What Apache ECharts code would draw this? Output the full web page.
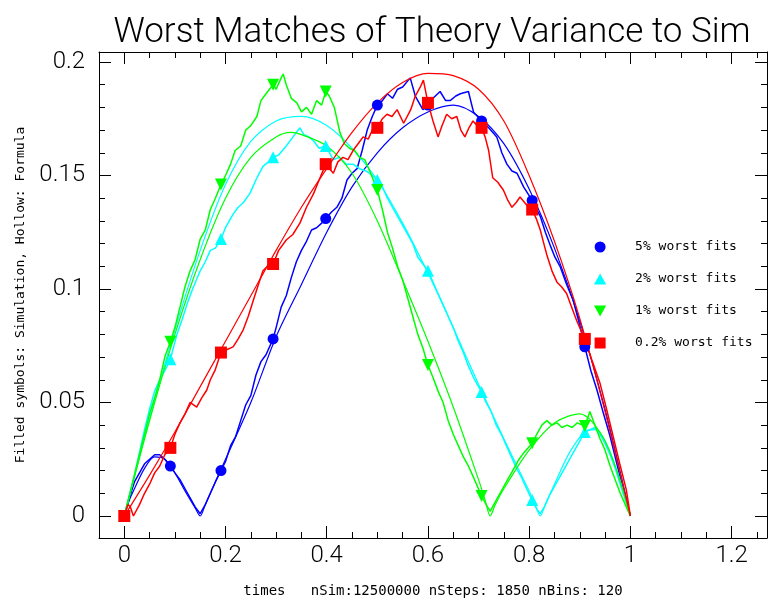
<!DOCTYPE html>
<html>
<head>
<meta charset="utf-8">
<script src="https://cdn.jsdelivr.net/npm/echarts@6.0.0/dist/echarts.min.js"></script>
<style>
html, body { margin: 0; padding: 0; background: #fff; }
#main { width: 768px; height: 603px; }
</style>
</head>
<body>
<div id="main"></div>
<script>
// tick values
var xMajor = [0, 0.2, 0.4, 0.6, 0.8, 1, 1.2];
var xMinor = [0.05, 0.1, 0.15, 0.25, 0.3, 0.35, 0.45, 0.5, 0.55, 0.65, 0.7, 0.75, 0.85, 0.9, 0.95, 1.05, 1.1, 1.15, 1.25];
var yMajor = [0, 0.05, 0.1, 0.15, 0.2];
var yMinor = [0.01, 0.02, 0.03, 0.04, 0.06, 0.07, 0.08, 0.09, 0.11, 0.12, 0.13, 0.14, 0.16, 0.17, 0.18, 0.19];

// times where the filled symbols sit
var markX = [0, 0.091, 0.191, 0.294, 0.398, 0.5, 0.6, 0.706, 0.806, 0.91];
var blueMarkY = [0, 0.022, 0.020, 0.078, 0.131, 0.181, 0.181, 0.174, 0.139, 0.0745];
var cyanMarkY = [0, 0.069, 0.122, 0.158, 0.163, 0.148, 0.108, 0.0546, 0.007, 0.037];
var greenMarkY = [0, 0.0767, 0.146, 0.190, 0.187, 0.1436, 0.0665, 0.0088, 0.032, 0.0396];
var redMarkY = [0, 0.030, 0.072, 0.111, 0.155, 0.171, 0.182, 0.171, 0.135, 0.078];

// simulation curves [time, variance]
var blueSim = [[0,0],[0.01,0.008],[0.02,0.015],[0.03,0.019],[0.04,0.023],[0.05,0.025],[0.06,0.027],[0.07,0.027],[0.08,0.025],[0.091,0.022],[0.10,0.019],[0.11,0.016],[0.12,0.012],[0.13,0.008],[0.14,0.004],[0.15,0.001],[0.16,0.005],[0.17,0.010],[0.18,0.015],[0.191,0.020],[0.20,0.024],[0.21,0.031],[0.22,0.035],[0.23,0.042],[0.24,0.049],[0.25,0.053],[0.26,0.062],[0.27,0.068],[0.28,0.071],[0.294,0.078],[0.30,0.083],[0.31,0.092],[0.32,0.097],[0.33,0.105],[0.34,0.112],[0.35,0.117],[0.36,0.121],[0.37,0.126],[0.38,0.127],[0.39,0.129],[0.398,0.131],[0.41,0.134],[0.42,0.136],[0.43,0.140],[0.44,0.148],[0.45,0.151],[0.46,0.153],[0.47,0.161],[0.48,0.170],[0.49,0.176],[0.5,0.181],[0.51,0.183],[0.52,0.186],[0.53,0.184],[0.54,0.188],[0.55,0.189],[0.565,0.193],[0.575,0.185],[0.59,0.179],[0.6,0.181],[0.61,0.184],[0.624,0.187],[0.635,0.183],[0.644,0.183],[0.655,0.185],[0.664,0.186],[0.68,0.187],[0.69,0.178],[0.706,0.174],[0.72,0.171],[0.736,0.167],[0.746,0.160],[0.756,0.155],[0.766,0.152],[0.776,0.151],[0.789,0.145],[0.806,0.139],[0.815,0.135],[0.822,0.132],[0.832,0.125],[0.842,0.119],[0.851,0.114],[0.861,0.110],[0.874,0.102],[0.887,0.095],[0.90,0.084],[0.91,0.0745],[0.922,0.064],[0.934,0.0555],[0.947,0.045],[0.96,0.035],[0.97,0.026],[0.98,0.017],[0.99,0.009],[1.0,0]];
var cyanSim = [[0,0],[0.01,0.009],[0.02,0.018],[0.03,0.028],[0.04,0.038],[0.051,0.048],[0.06,0.055],[0.07,0.060],[0.08,0.064],[0.091,0.069],[0.104,0.080],[0.115,0.087],[0.125,0.094],[0.135,0.100],[0.15,0.108],[0.16,0.112],[0.17,0.117],[0.18,0.118],[0.191,0.122],[0.2,0.127],[0.215,0.133],[0.225,0.136],[0.235,0.138],[0.248,0.142],[0.26,0.148],[0.274,0.154],[0.285,0.156],[0.294,0.158],[0.305,0.159],[0.32,0.163],[0.33,0.166],[0.34,0.169],[0.347,0.171],[0.355,0.168],[0.365,0.167],[0.375,0.165],[0.385,0.162],[0.398,0.163],[0.413,0.157],[0.425,0.158],[0.438,0.155],[0.452,0.155],[0.465,0.153],[0.478,0.152],[0.49,0.150],[0.5,0.148],[0.51,0.145],[0.52,0.140],[0.53,0.136],[0.54,0.132],[0.55,0.128],[0.56,0.124],[0.57,0.120],[0.58,0.114],[0.59,0.111],[0.6,0.108],[0.61,0.103],[0.62,0.098],[0.63,0.093],[0.64,0.088],[0.65,0.083],[0.66,0.077],[0.67,0.072],[0.68,0.066],[0.69,0.061],[0.706,0.0546],[0.715,0.050],[0.725,0.046],[0.735,0.040],[0.745,0.036],[0.755,0.031],[0.765,0.026],[0.775,0.021],[0.785,0.017],[0.795,0.012],[0.806,0.007],[0.815,0.003],[0.822,0.001],[0.83,0.004],[0.84,0.009],[0.85,0.013],[0.86,0.017],[0.87,0.021],[0.88,0.025],[0.89,0.029],[0.9,0.033],[0.91,0.037],[0.92,0.038],[0.93,0.039],[0.94,0.036],[0.95,0.032],[0.96,0.027],[0.97,0.021],[0.98,0.014],[0.99,0.007],[1.0,0]];
var greenSim = [[0,0],[0.01,0.009],[0.02,0.018],[0.03,0.027],[0.04,0.036],[0.05,0.045],[0.06,0.052],[0.07,0.060],[0.08,0.070],[0.091,0.0767],[0.10,0.083],[0.11,0.092],[0.12,0.101],[0.13,0.108],[0.14,0.113],[0.15,0.122],[0.16,0.126],[0.17,0.135],[0.18,0.140],[0.191,0.146],[0.20,0.150],[0.21,0.155],[0.219,0.161],[0.23,0.163],[0.24,0.170],[0.25,0.172],[0.262,0.176],[0.27,0.183],[0.28,0.186],[0.294,0.190],[0.30,0.188],[0.31,0.193],[0.314,0.1947],[0.32,0.190],[0.33,0.184],[0.341,0.182],[0.35,0.178],[0.36,0.180],[0.37,0.177],[0.38,0.183],[0.39,0.181],[0.398,0.187],[0.405,0.185],[0.415,0.180],[0.426,0.169],[0.435,0.164],[0.445,0.162],[0.455,0.161],[0.465,0.158],[0.475,0.157],[0.485,0.152],[0.5,0.1436],[0.51,0.135],[0.52,0.125],[0.53,0.118],[0.54,0.110],[0.55,0.104],[0.56,0.096],[0.57,0.088],[0.58,0.080],[0.59,0.074],[0.6,0.0665],[0.61,0.061],[0.62,0.055],[0.63,0.050],[0.64,0.042],[0.65,0.036],[0.66,0.031],[0.67,0.026],[0.68,0.022],[0.69,0.017],[0.706,0.0088],[0.715,0.005],[0.723,0.002],[0.73,0.005],[0.74,0.009],[0.75,0.013],[0.76,0.017],[0.77,0.021],[0.78,0.025],[0.79,0.028],[0.806,0.032],[0.815,0.036],[0.825,0.040],[0.835,0.042],[0.845,0.040],[0.855,0.041],[0.865,0.039],[0.875,0.040],[0.885,0.039],[0.895,0.041],[0.91,0.0396],[0.92,0.046],[0.93,0.040],[0.94,0.034],[0.95,0.029],[0.96,0.022],[0.97,0.016],[0.98,0.010],[0.99,0.005],[1.0,0]];
var redSim = [[0,0],[0.007,0.005],[0.012,0.004],[0.018,0.0],[0.03,0.005],[0.04,0.010],[0.051,0.0145],[0.06,0.019],[0.07,0.022],[0.08,0.027],[0.091,0.030],[0.10,0.036],[0.11,0.041],[0.12,0.045],[0.13,0.050],[0.143,0.048],[0.153,0.052],[0.163,0.0555],[0.17,0.060],[0.179,0.064],[0.191,0.072],[0.20,0.073],[0.215,0.0745],[0.225,0.078],[0.235,0.082],[0.245,0.088],[0.255,0.095],[0.265,0.102],[0.274,0.108],[0.283,0.110],[0.294,0.111],[0.305,0.117],[0.32,0.1216],[0.333,0.124],[0.347,0.129],[0.36,0.136],[0.374,0.142],[0.385,0.148],[0.398,0.155],[0.413,0.151],[0.422,0.156],[0.432,0.158],[0.442,0.157],[0.452,0.161],[0.462,0.164],[0.472,0.167],[0.482,0.166],[0.492,0.171],[0.5,0.171],[0.51,0.175],[0.519,0.177],[0.529,0.176],[0.539,0.179],[0.552,0.173],[0.566,0.179],[0.575,0.185],[0.585,0.189],[0.591,0.192],[0.6,0.182],[0.61,0.174],[0.62,0.167],[0.628,0.172],[0.637,0.177],[0.647,0.175],[0.657,0.176],[0.665,0.170],[0.673,0.167],[0.681,0.171],[0.689,0.174],[0.697,0.172],[0.706,0.171],[0.713,0.167],[0.72,0.161],[0.728,0.149],[0.738,0.147],[0.749,0.1436],[0.758,0.139],[0.766,0.136],[0.774,0.138],[0.782,0.1405],[0.795,0.137],[0.806,0.135],[0.814,0.131],[0.822,0.126],[0.829,0.120],[0.835,0.115],[0.845,0.108],[0.855,0.103],[0.864,0.101],[0.874,0.098],[0.884,0.092],[0.894,0.086],[0.902,0.082],[0.91,0.078],[0.925,0.068],[0.94,0.0585],[0.953,0.047],[0.966,0.035],[0.979,0.023],[0.992,0.0115],[1.0,0]];

// formula curves [time, variance]
var blueFormula = [[0,0],[0.01,0.007],[0.02,0.012],[0.04,0.021],[0.06,0.026],[0.08,0.025],[0.10,0.019],[0.12,0.011],[0.14,0.0035],[0.15,0],[0.16,0.005],[0.19,0.020],[0.25,0.050],[0.3,0.079],[0.35,0.102],[0.4,0.125],[0.45,0.145],[0.5,0.160],[0.55,0.171],[0.6,0.178],[0.65,0.181],[0.7,0.176],[0.75,0.164],[0.8,0.144],[0.85,0.118],[0.9,0.086],[0.95,0.047],[1,0]];
var cyanFormula = [[0,0],[0.05,0.043],[0.1,0.082],[0.15,0.117],[0.2,0.146],[0.25,0.165],[0.3,0.174],[0.35,0.176],[0.4,0.172],[0.45,0.162],[0.5,0.148],[0.55,0.129],[0.6,0.107],[0.65,0.083],[0.7,0.058],[0.75,0.034],[0.8,0.011],[0.812,0.005],[0.822,0],[0.832,0.005],[0.85,0.014],[0.88,0.028],[0.91,0.037],[0.93,0.038],[0.95,0.033],[0.975,0.019],[1,0]];
var greenFormula = [[0,0],[0.05,0.042],[0.1,0.080],[0.15,0.113],[0.2,0.140],[0.25,0.158],[0.3,0.167],[0.33,0.169],[0.35,0.168],[0.4,0.163],[0.45,0.151],[0.5,0.130],[0.55,0.104],[0.6,0.077],[0.65,0.048],[0.7,0.016],[0.713,0.007],[0.723,0],[0.733,0.005],[0.75,0.012],[0.8,0.029],[0.85,0.041],[0.9,0.045],[0.95,0.033],[1,0]];
var redFormula = [[0,0],[0.05,0.018],[0.1,0.037],[0.15,0.057],[0.2,0.077],[0.25,0.097],[0.3,0.117],[0.35,0.136],[0.4,0.153],[0.45,0.169],[0.5,0.182],[0.55,0.191],[0.6,0.195],[0.65,0.194],[0.7,0.188],[0.75,0.174],[0.8,0.150],[0.85,0.121],[0.9,0.087],[0.95,0.046],[1,0]];

var upTriangle = 'path://M5,0 L10,9 L0,9 Z';
var downTriangle = 'path://M0,0 L10,0 L5,9 Z';
var square = 'path://M0,0 L10,0 L10,10 L0,10 Z';
var groups = [
    { name: '5% worst fits', color: '#0000ff', sim: blueSim, formula: blueFormula, markY: blueMarkY, symbol: 'circle', icon: 'circle', size: 11 },
    { name: '2% worst fits', color: '#00ffff', sim: cyanSim, formula: cyanFormula, markY: cyanMarkY, symbol: upTriangle, icon: upTriangle, size: 12 },
    { name: '1% worst fits', color: '#00ff00', sim: greenSim, formula: greenFormula, markY: greenMarkY, symbol: downTriangle, icon: downTriangle, size: 12 },
    { name: '0.2% worst fits', color: '#ff0000', sim: redSim, formula: redFormula, markY: redMarkY, symbol: square, icon: square, size: 12 }
];

var myChart = echarts.init(document.getElementById('main'), null, { renderer: 'canvas' });

var series = [];
groups.forEach(function (g) {
    series.push({
        name: g.name + ' sim', type: 'line', data: g.sim, showSymbol: false,
        lineStyle: { color: g.color, width: 1.5 }, itemStyle: { color: g.color }, z: 2
    });
    series.push({
        name: g.name + ' formula', type: 'line', data: g.formula, showSymbol: false, smooth: 0.3,
        lineStyle: { color: g.color, width: 1.2 }, itemStyle: { color: g.color }, z: 2
    });
    series.push({
        name: g.name, type: 'scatter', symbol: g.symbol, symbolSize: g.size,
        data: markX.map(function (x, i) { return [x, g.markY[i]]; }),
        itemStyle: { color: g.color, opacity: 1 }, z: 3
    });
});

function tickAxis(pos, values, len, withLine) {
    var horiz = pos === 'bottom' || pos === 'top';
    return {
        type: 'value', position: pos,
        min: horiz ? -0.05 : -0.0097,
        max: horiz ? 1.27 : 0.2044,
        axisLine: { show: withLine, onZero: false, lineStyle: { color: '#000', width: 1 } },
        axisTick: { show: true, inside: true, length: len, customValues: values, lineStyle: { color: '#000', width: 1 } },
        axisLabel: { show: false },
        splitLine: { show: false }
    };
}

var labelFont = { fontFamily: 'Roboto', fontWeight: 300, fontSize: 24, color: '#000' };

var xMain = tickAxis('bottom', xMajor, 12, true);
xMain.axisLabel = Object.assign({ show: true, customValues: xMajor, margin: 6 }, labelFont);
xMain.name = 'times   nSim:12500000 nSteps: 1850 nBins: 120';
xMain.nameLocation = 'middle';
xMain.nameGap = 46;
xMain.nameTextStyle = { fontFamily: 'DejaVu Sans Mono', fontSize: 14, color: '#000' };

var yMain = tickAxis('left', yMajor, 12, true);
yMain.axisLabel = Object.assign({ show: true, customValues: yMajor, margin: 14 }, labelFont);
yMain.name = 'Filled symbols: Simulation, Hollow: Formula';
yMain.nameLocation = 'middle';
yMain.nameGap = 72;
yMain.nameTextStyle = { fontFamily: 'DejaVu Sans Mono', fontSize: 13, color: '#000' };

var option = {
    animation: false,
    backgroundColor: '#fff',
    title: {
        text: 'Worst Matches of Theory Variance to Sim',
        left: 427, top: 11, textAlign: 'center',
        textStyle: { fontFamily: 'Roboto', fontWeight: 300, fontSize: 35, color: '#000' }
    },
    grid: { left: 99, right: 1, top: 52, bottom: 65, containLabel: false },
    legend: {
        orient: 'vertical', left: 589, top: 235,
        itemWidth: 60, itemHeight: 11, itemGap: 18,
        selectedMode: false,
        textStyle: { fontFamily: 'DejaVu Sans Mono', fontSize: 13, color: '#000', lineHeight: 14 },
        data: groups.map(function (g) { return { name: g.name, icon: g.icon }; })
    },
    xAxis: [
        xMain,
        tickAxis('bottom', xMinor, 6, false),
        tickAxis('top', xMajor, 12, true),
        tickAxis('top', xMinor, 6, false)
    ],
    yAxis: [
        yMain,
        tickAxis('left', yMinor, 6, false),
        tickAxis('right', yMajor, 12, true),
        tickAxis('right', yMinor, 6, false)
    ],
    series: series
};

myChart.setOption(option);
</script>
</body>
</html>
